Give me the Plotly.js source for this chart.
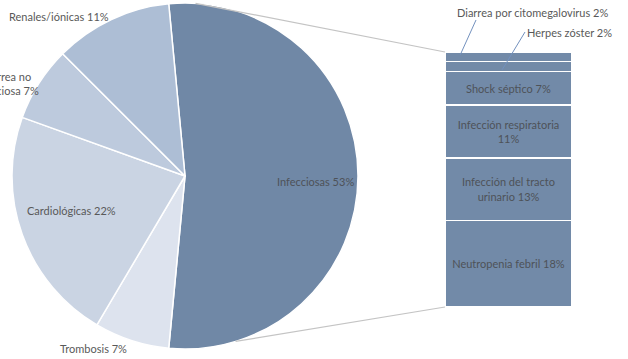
<!DOCTYPE html>
<html><head><meta charset="utf-8">
<script src="https://cdn.plot.ly/plotly-3.0.1.min.js"></script>
<style>html,body{margin:0;padding:0;background:#fff;overflow:hidden}#chart{width:628px;height:359px}</style>
</head><body><div id="chart"></div>
<script>
// ---- data ----
const pieLabels = ['Infecciosas', 'Trombosis', 'Cardiológicas', 'Diarrea no infecciosa', 'Renales/iónicas'];
const pieValues = [53, 7, 22, 7, 11];
const barLabels = ['Neutropenia febril', 'Infección del tracto urinario', 'Infección respiratoria', 'Shock séptico', 'Herpes zóster', 'Diarrea por citomegalovirus'];
const barValues = [18, 13, 11, 7, 2, 2];

// ---- styles / geometry ----
const W = 628, H = 359;
const FONT = 'Lato, "Open Sans", sans-serif';
const pieColors = ['#7088a6', '#dde3ee', '#cad4e3', '#bdcadd', '#adbed5'];
const barColor = '#728aa8';
const cx = 185, cy = 176, r = 173;
const barL = 445, barR = 572, barTop = 52, barBot = 307;
const total = barValues.reduce((a, b) => a + b, 0);
const infIdx = 0;

function wrap(s, n) {
  const words = s.split(' '); const lines = []; let cur = '';
  words.forEach(w => {
    if (cur && (cur + ' ' + w).length > n) { lines.push(cur); cur = w; }
    else cur = cur ? cur + ' ' + w : w;
  });
  if (cur) lines.push(cur);
  return lines.join('<br>');
}
const px = x => x / W, py = y => 1 - y / H;
const barXpix = v => barL + (v + 0.5) * (barR - barL);
const barYpix = v => barBot - v / total * (barBot - barTop);

// pie trace
const startDeg = -pieValues[infIdx] / 100 * 360 / 2 + 90;
const traces = [{
  type: 'pie', labels: pieLabels, values: pieValues, sort: false, direction: 'clockwise',
  rotation: startDeg, textinfo: 'none', hoverinfo: 'label+percent',
  marker: { colors: pieColors, line: { color: '#ffffff', width: 1.5 } },
  domain: { x: [px(cx - r), px(cx + r)], y: [py(cy + r), py(cy - r)] }
}];

// stacked bar traces
barLabels.forEach((lab, i) => {
  const txt = barValues[i] > 3 ? wrap(lab + ' ' + barValues[i] + '%', 22) : '';
  traces.push({
    type: 'bar', x: [0], y: [barValues[i]], width: 1, name: lab,
    text: [txt], textposition: 'inside', insidetextanchor: 'middle', textangle: 0,
    constraintext: 'none', textfont: { family: FONT, size: 11, color: '#4e5258' },
    marker: { color: barColor, line: { color: '#ffffff', width: 1.5 } },
    hoverinfo: 'name+y'
  });
});

// pie labels (annotations)
const piePos = [
  { x: 315, y: 181 }, { x: 93, y: 348 }, { x: 71, y: 210 }, { x: 6, y: 83, wrap: 13 }, { x: 59, y: 17 }
];
const annotations = pieLabels.map((lab, i) => {
  let t = lab + ' ' + pieValues[i] + '%';
  if (piePos[i].wrap) t = wrap(t, piePos[i].wrap);
  return { text: t, x: px(piePos[i].x), y: py(piePos[i].y), xref: 'paper', yref: 'paper',
    showarrow: false, xanchor: 'center', yanchor: 'middle', align: 'center',
    font: { family: FONT, size: 11, color: i === 0 ? '#4e5258' : '#595959' } };
});
// small bar segment labels
const smallPos = { 4: { tx: 525, ty: 33, hx: -0.05, hy: 49.3, lx: 525, ly: 32 },
                   5: { tx: 455, ty: 12, hx: -0.38, hy: total - 0.6, lx: 476, ly: 20 } };
const shapes = [];
Object.keys(smallPos).forEach(k => {
  const p = smallPos[k];
  annotations.push({ text: barLabels[k] + ' ' + barValues[k] + '%', x: px(p.tx), y: py(p.ty),
    xref: 'paper', yref: 'paper', showarrow: false, xanchor: 'left', yanchor: 'middle',
    font: { family: FONT, size: 11, color: '#595959' } });
  shapes.push({ type: 'line', xref: 'paper', yref: 'paper', x0: px(p.lx), y0: py(p.ly),
    x1: px(barXpix(p.hx)), y1: py(barYpix(p.hy)), line: { color: '#7391be', width: 1 } });
});
// connector lines pie -> bar
const a1 = 3.5 * Math.PI / 180, a2 = 163 * Math.PI / 180;
shapes.push({ type: 'line', xref: 'paper', yref: 'paper',
  x0: px(cx + r * Math.sin(a1)), y0: py(cy - r * Math.cos(a1)),
  x1: px(barXpix(-0.5)), y1: py(barYpix(total)), line: { color: '#c4c4c4', width: 1.25 } });
shapes.push({ type: 'line', xref: 'paper', yref: 'paper',
  x0: px(cx + r * Math.sin(a2)), y0: py(cy - r * Math.cos(a2)),
  x1: px(barXpix(-0.5)), y1: py(barYpix(0)), line: { color: '#c4c4c4', width: 1.25 } });

const layout = {
  width: W, height: H, margin: { l: 0, r: 0, t: 0, b: 0, pad: 0 },
  paper_bgcolor: '#ffffff', plot_bgcolor: 'rgba(0,0,0,0)', showlegend: false,
  barmode: 'stack', bargap: 0,
  xaxis: { domain: [px(barL), px(barR)], range: [-0.5, 0.5], visible: false, fixedrange: true },
  yaxis: { domain: [py(barBot), py(barTop)], range: [0, total], visible: false, fixedrange: true },
  annotations: annotations, shapes: shapes
};
Plotly.newPlot('chart', traces, layout, { displayModeBar: false, staticPlot: true });
</script></body></html>
